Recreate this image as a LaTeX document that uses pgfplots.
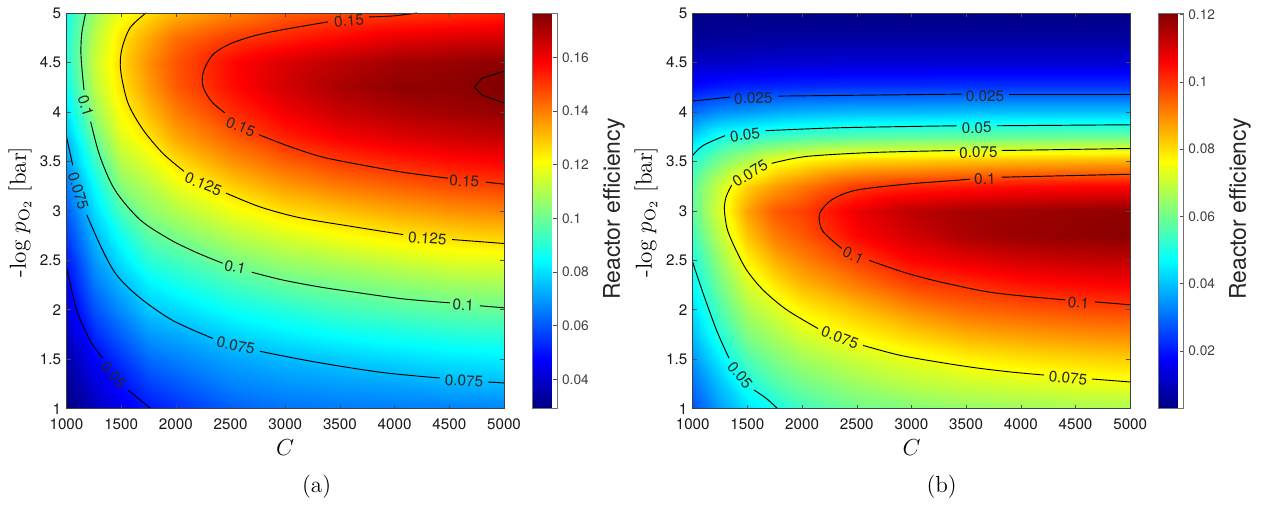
\documentclass[border=0pt]{standalone}
\usepackage{fontspec}
\usepackage{pgfplots}
\usepackage{pgfplotstable}
\pgfplotsset{compat=1.18}
\newfontfamily\hv{TeX Gyre Heros}
\newcommand{\tickf}{\hv\fontsize{11.4}{13}\selectfont}
\newcommand{\cbf}{\hv\fontsize{10.3}{12}\selectfont}
\newcommand{\labf}{\hv\fontsize{11.5}{13}\selectfont}
\pgfplotstableread[row sep=\\]{
c y z\\
1000 1 .0291\\1000 1.25 .032\\1000 1.5 .035\\1000 1.75 .039\\1000 2 .043\\1000 2.25 .0475\\1000 2.5 .051\\1000 2.75 .056\\1000 3 .061\\1000 3.25 .0655\\1000 3.5 .0705\\1000 3.75 .075\\1000 4 .081\\1000 4.25 .086\\1000 4.5 .089\\1000 4.75 .089\\1000 5 .087\\
1250 1 .037\\1250 1.25 .042\\1250 1.5 .047\\1250 1.75 .053\\1250 2 .059\\1250 2.25 .0645\\1250 2.5 .0695\\1250 2.75 .074\\1250 3 .079\\1250 3.25 .0845\\1250 3.5 .0915\\1250 3.75 .099\\1250 4 .106\\1250 4.25 .111\\1250 4.5 .113\\1250 4.75 .111\\1250 5 .107\\
1500 1 .0445\\1500 1.25 .0495\\1500 1.5 .055\\1500 1.75 .0615\\1500 2 .068\\1500 2.25 .074\\1500 2.5 .0805\\1500 2.75 .0865\\1500 3 .095\\1500 3.25 .104\\1500 3.5 .111\\1500 3.75 .117\\1500 4 .1215\\1500 4.25 .125\\1500 4.5 .1265\\1500 4.75 .125\\1500 5 .119\\
1750 1 .0505\\1750 1.25 .0565\\1750 1.5 .063\\1750 1.75 .0695\\1750 2 .0765\\1750 2.25 .0825\\1750 2.5 .0905\\1750 2.75 .0975\\1750 3 .105\\1750 3.25 .1105\\1750 3.5 .1175\\1750 3.75 .125\\1750 4 .131\\1750 4.25 .136\\1750 4.5 .1375\\1750 4.75 .134\\1750 5 .126\\
2000 1 .054\\2000 1.25 .060\\2000 1.5 .066\\2000 1.75 .072\\2000 2 .079\\2000 2.25 .0865\\2000 2.5 .094\\2000 2.75 .102\\2000 3 .110\\2000 3.25 .118\\2000 3.5 .126\\2000 3.75 .134\\2000 4 .140\\2000 4.25 .145\\2000 4.5 .146\\2000 4.75 .142\\2000 5 .132\\
2500 1 .061\\2500 1.25 .0665\\2500 1.5 .0715\\2500 1.75 .078\\2500 2 .0855\\2500 2.25 .0935\\2500 2.5 .102\\2500 2.75 .1105\\2500 3 .119\\2500 3.25 .128\\2500 3.5 .137\\2500 3.75 .1445\\2500 4 .1515\\2500 4.25 .1565\\2500 4.5 .157\\2500 4.75 .1495\\2500 5 .139\\
3000 1 .064\\3000 1.25 .069\\3000 1.5 .0745\\3000 1.75 .082\\3000 2 .0895\\3000 2.25 .0985\\3000 2.5 .1075\\3000 2.75 .116\\3000 3 .126\\3000 3.25 .1355\\3000 3.5 .1445\\3000 3.75 .1535\\3000 4 .160\\3000 4.25 .1645\\3000 4.5 .1635\\3000 4.75 .1535\\3000 5 .1445\\
3500 1 .065\\3500 1.25 .0705\\3500 1.5 .077\\3500 1.75 .085\\3500 2 .0935\\3500 2.25 .1015\\3500 2.5 .1105\\3500 2.75 .1205\\3500 3 .130\\3500 3.25 .1405\\3500 3.5 .150\\3500 3.75 .159\\3500 4 .166\\3500 4.25 .1705\\3500 4.5 .168\\3500 4.75 .1575\\3500 5 .1475\\
4000 1 .0655\\4000 1.25 .0715\\4000 1.5 .079\\4000 1.75 .087\\4000 2 .096\\4000 2.25 .1045\\4000 2.5 .114\\4000 2.75 .124\\4000 3 .134\\4000 3.25 .144\\4000 3.5 .1535\\4000 3.75 .1625\\4000 4 .1695\\4000 4.25 .174\\4000 4.5 .1715\\4000 4.75 .1615\\4000 5 .1495\\
4500 1 .066\\4500 1.25 .0735\\4500 1.5 .081\\4500 1.75 .089\\4500 2 .098\\4500 2.25 .107\\4500 2.5 .117\\4500 2.75 .1265\\4500 3 .137\\4500 3.25 .147\\4500 3.5 .1565\\4500 3.75 .165\\4500 4 .1715\\4500 4.25 .1745\\4500 4.5 .173\\4500 4.75 .163\\4500 5 .151\\
5000 1 .0665\\5000 1.25 .0745\\5000 1.5 .082\\5000 1.75 .0905\\5000 2 .0995\\5000 2.25 .1085\\5000 2.5 .118\\5000 2.75 .1285\\5000 3 .139\\5000 3.25 .149\\5000 3.5 .1585\\5000 3.75 .167\\5000 4 .1735\\5000 4.25 .1765\\5000 4.5 .1745\\5000 4.75 .1645\\5000 5 .153\\
}\tabA
\pgfplotstableread[row sep=\\]{
c y z\\
1000 1 .0265\\1000 1.25 .0305\\1000 1.5 .035\\1000 1.75 .0395\\1000 2 .0435\\1000 2.25 .047\\1000 2.5 .0505\\1000 2.75 .0545\\1000 3 .058\\1000 3.25 .058\\1000 3.5 .052\\1000 3.75 .042\\1000 4 .030\\1000 4.25 .0185\\1000 4.5 .0105\\1000 4.75 .0055\\1000 5 .0035\\
1250 1 .036\\1250 1.25 .040\\1250 1.5 .0455\\1250 1.75 .051\\1250 2 .056\\1250 2.25 .0605\\1250 2.5 .0645\\1250 2.75 .069\\1250 3 .0725\\1250 3.25 .0705\\1250 3.5 .061\\1250 3.75 .0495\\1250 4 .034\\1250 4.25 .0205\\1250 4.5 .011\\1250 4.75 .006\\1250 5 .0035\\
1500 1 .0435\\1500 1.25 .0495\\1500 1.5 .0555\\1500 1.75 .0615\\1500 2 .0665\\1500 2.25 .0715\\1500 2.5 .0775\\1500 2.75 .083\\1500 3 .087\\1500 3.25 .0815\\1500 3.5 .0675\\1500 3.75 .052\\1500 4 .0355\\1500 4.25 .0215\\1500 4.5 .0115\\1500 4.75 .006\\1500 5 .0035\\
1750 1 .049\\1750 1.25 .056\\1750 1.5 .0615\\1750 1.75 .0665\\1750 2 .072\\1750 2.25 .079\\1750 2.5 .0855\\1750 2.75 .0915\\1750 3 .0955\\1750 3.25 .0875\\1750 3.5 .0745\\1750 3.75 .054\\1750 4 .037\\1750 4.25 .022\\1750 4.5 .012\\1750 4.75 .0065\\1750 5 .0035\\
2000 1 .054\\2000 1.25 .060\\2000 1.5 .0655\\2000 1.75 .0715\\2000 2 .0775\\2000 2.25 .0845\\2000 2.5 .0905\\2000 2.75 .0955\\2000 3 .0985\\2000 3.25 .0915\\2000 3.5 .0775\\2000 3.75 .0555\\2000 4 .038\\2000 4.25 .0225\\2000 4.5 .012\\2000 4.75 .0065\\2000 5 .0035\\
2500 1 .0595\\2500 1.25 .065\\2500 1.5 .0705\\2500 1.75 .077\\2500 2 .0835\\2500 2.25 .0915\\2500 2.5 .0985\\2500 2.75 .1055\\2500 3 .108\\2500 3.25 .099\\2500 3.5 .0815\\2500 3.75 .057\\2500 4 .039\\2500 4.25 .023\\2500 4.5 .0125\\2500 4.75 .0065\\2500 5 .0035\\
3000 1 .062\\3000 1.25 .0685\\3000 1.5 .074\\3000 1.75 .0815\\3000 2 .0895\\3000 2.25 .098\\3000 2.5 .1055\\3000 2.75 .111\\3000 3 .1135\\3000 3.25 .1015\\3000 3.5 .0825\\3000 3.75 .058\\3000 4 .039\\3000 4.25 .023\\3000 4.5 .0125\\3000 4.75 .0065\\3000 5 .0035\\
3500 1 .064\\3500 1.25 .0705\\3500 1.5 .0775\\3500 1.75 .0855\\3500 2 .0935\\3500 2.25 .1005\\3500 2.5 .1085\\3500 2.75 .1155\\3500 3 .116\\3500 3.25 .103\\3500 3.5 .0835\\3500 3.75 .0585\\3500 4 .0395\\3500 4.25 .0235\\3500 4.5 .0125\\3500 4.75 .0065\\3500 5 .0035\\
4000 1 .065\\4000 1.25 .072\\4000 1.5 .0795\\4000 1.75 .0875\\4000 2 .0955\\4000 2.25 .1035\\4000 2.5 .111\\4000 2.75 .1175\\4000 3 .117\\4000 3.25 .1045\\4000 3.5 .0845\\4000 3.75 .059\\4000 4 .040\\4000 4.25 .0235\\4000 4.5 .0125\\4000 4.75 .0065\\4000 5 .0035\\
4500 1 .066\\4500 1.25 .0735\\4500 1.5 .081\\4500 1.75 .089\\4500 2 .097\\4500 2.25 .105\\4500 2.5 .1125\\4500 2.75 .1185\\4500 3 .118\\4500 3.25 .105\\4500 3.5 .085\\4500 3.75 .0595\\4500 4 .040\\4500 4.25 .0235\\4500 4.5 .0125\\4500 4.75 .0065\\4500 5 .0035\\
5000 1 .0665\\5000 1.25 .0745\\5000 1.5 .082\\5000 1.75 .090\\5000 2 .098\\5000 2.25 .106\\5000 2.5 .113\\5000 2.75 .1195\\5000 3 .1185\\5000 3.25 .1055\\5000 3.5 .0855\\5000 3.75 .0595\\5000 4 .040\\5000 4.25 .0235\\5000 4.5 .0125\\5000 4.75 .0065\\5000 5 .0035\\
}\tabB
\pgfplotsset{
  panel/.style={
    scale only axis, width=328.125pt, height=296.775pt,
    xmin=1000,xmax=5000,ymin=1,ymax=5,
    xtick={1000,1500,...,5000},
    xticklabels={1000,1500,2000,2500,3000,3500,4000,4500,5000},
    ytick={1,1.5,...,5},
    yticklabels={1,1.5,2,2.5,3,3.5,4,4.5,5},
    tick align=inside, major tick length=3pt,
    tick style={black!70,line width=.4pt},
    axis line style={black!75,line width=.6pt},
    ticklabel style={font=\tickf,text=black!90},
    xticklabel style={yshift=-4pt},
    yticklabel style={xshift=-.5pt},
    axis on top,
    colormap/jet,
    colorbar,
  },
  field/.style={surf,shader=interp,forget plot,mesh/rows=17,mesh/cols=11,mesh/ordering=y varies,point meta=\thisrow{z}},
  cbar/.style={
    at={(parent axis.south east)},anchor=south west,xshift=12.75pt,
    scale only axis,width=18.75pt,height=296.775pt,
    tick align=inside,major tick length=3pt,
    ytick pos=right,yticklabel pos=right,
    tick style={black!70,line width=.4pt},
    axis line style={black!55,line width=.6pt},
    xtick=\empty,
    yticklabel style={font=\cbf,text=black!75,xshift=0pt},
  },
  cont/.style={black,line width=.7pt,no markers,smooth,forget plot},
}
\newcommand{\lab}[4]{\node[rotate=#3,font=\labf,text=black!85,inner sep=0pt] at (axis cs:#1,#2) {#4};}
\begin{document}
\begin{tikzpicture}
\useasboundingbox (0,0) rectangle (948.75pt,378.75pt);
\begin{axis}[panel,at={(49.875pt,72.225pt)},anchor=south west,
  point meta min=.0291,point meta max=.1765,
  colorbar style={cbar,ytick={.04,.06,.08,.1,.12,.14,.16},yticklabels={0.04,0.06,0.08,0.1,0.12,0.14,0.16}}]
\addplot[field] table[x=c,y=y] {\tabA};
% 0.05
\addplot[cont] coordinates {(1000,2.43)(1093,2.0)(1215,1.69)(1331,1.51)};
\addplot[cont] coordinates {(1560,1.19)(1672,1.09)(1773,1.0)};
% 0.075
\addplot[cont] coordinates {(1000,3.75)(1057,3.46)};
\addplot[cont] coordinates {(1185,2.96)(1322,2.62)(1459,2.35)(1672,2.12)(1974,1.89)(2339,1.71)};
\addplot[cont] coordinates {(2769,1.58)(3135,1.50)(3500,1.43)(3930,1.36)(4414,1.31)};
\addplot[cont] coordinates {(4853,1.27)(5000,1.26)};
% 0.1
\addplot[cont] coordinates {(1175,5)(1139,4.79)(1133,4.56)(1160,4.22)};
\addplot[cont] coordinates {(1221,3.90)(1306,3.55)(1443,3.21)(1672,2.91)(1946,2.71)(2166,2.59)(2282,2.535)(2428,2.47)};
\addplot[cont] coordinates {(2693,2.38)(2980,2.30)(3318,2.23)(3620,2.18)(4077,2.11)(4506,2.07)};
\addplot[cont] coordinates {(4780,2.04)(5000,2.02)};
% 0.125
\addplot[cont] coordinates {(1727,5)(1581,4.85)(1505,4.63)(1495,4.42)(1562,4.09)(1700,3.82)(1882,3.58)(2074,3.40)};
\addplot[cont] coordinates {(2458,3.18)(2769,3.04)(3135,2.93)(3620,2.84)(4077,2.76)};
\addplot[cont] coordinates {(4525,2.71)(5000,2.67)};
% 0.15
\addplot[cont] coordinates {(3390,4.91)(2830,4.80)(2522,4.70)(2340,4.58)(2250,4.40)(2250,4.25)(2330,4.10)(2449,3.99)};
\addplot[cont] coordinates {(2760,3.77)(3016,3.66)(3318,3.55)(3620,3.48)(4077,3.39)(4488,3.33)};
\addplot[cont] coordinates {(4835,3.29)(5000,3.27)};
\addplot[cont] coordinates {(3766,4.96)(3985,4.97)(4205,5)};
% 0.175
\addplot[black,line width=.7pt,no markers,forget plot] coordinates {(5000,4.41)(4796,4.34)(4729,4.25)(4800,4.17)(5000,4.09)};
\lab{1428}{1.34}{-50}{0.05}
\lab{1108}{3.2}{-73}{0.075}
\lab{2547}{1.64}{-12}{0.075}
\lab{4634}{1.28}{-3}{0.075}
\lab{1175}{4.06}{-72}{0.1}
\lab{2541}{2.43}{-12}{0.1}
\lab{4628}{2.05}{-3}{0.1}
\lab{2251}{3.27}{-22}{0.125}
\lab{4300}{2.72}{-4}{0.125}
\lab{2593}{3.85}{-22}{0.15}
\lab{4637}{3.30}{-3}{0.15}
\lab{3583}{4.92}{5}{0.15}
\end{axis}
\begin{axis}[panel,at={(519.525pt,72.225pt)},anchor=south west,
  point meta min=.0028,point meta max=.1205,
  colorbar style={cbar,ytick={.02,.04,.06,.08,.1,.12},yticklabels={0.02,0.04,0.06,0.08,0.1,0.12}}]
\addplot[field] table[x=c,y=y] {\tabB};
% 0.025
\addplot[cont] coordinates {(1000,4.11)(1341,4.15)};
\addplot[cont] coordinates {(1780,4.16)(3460,4.18)};
\addplot[cont] coordinates {(3892,4.18)(5000,4.18)};
% 0.05 upper
\addplot[cont] coordinates {(1000,3.56)(1094,3.66)(1295,3.76)};
\addplot[cont] coordinates {(1667,3.81)(2347,3.84)(3414,3.86)};
\addplot[cont] coordinates {(3780,3.86)(5000,3.87)};
% 0.05 lower
\addplot[cont] coordinates {(1000,2.48)(1094,2.17)(1219,1.79)(1332,1.51)};
\addplot[cont] coordinates {(1560,1.19)(1677,1.10)(1777,1.0)};
% 0.075
\addplot[cont] coordinates {(1722,3.48)(2042,3.55)(2650,3.59)(3398,3.61)};
\addplot[cont] coordinates {(3827,3.61)(5000,3.63)};
\addplot[cont] coordinates {(1356,3.26)(1305,3.14)(1290,3.01)(1317,2.81)(1393,2.61)(1494,2.40)(1643,2.20)(1859,2.00)(2146,1.81)};
\addplot[cont] coordinates {(2557,1.64)(2895,1.54)(3307,1.46)(3610,1.41)(3917,1.37)(4212,1.34)};
\addplot[cont] coordinates {(4651,1.30)(5000,1.27)};
% 0.1
\addplot[cont] coordinates {(3535,3.32)(3307,3.30)(2957,3.27)(2499,3.21)(2283,3.12)(2179,3.01)(2155,2.93)(2192,2.79)(2362,2.62)};
\addplot[cont] coordinates {(2612,2.50)(2957,2.37)(3307,2.27)(3764,2.17)(4405,2.10)};
\addplot[cont] coordinates {(4678,2.08)(5000,2.05)};
\addplot[cont] coordinates {(3825,3.34)(5000,3.37)};
\lab{1554}{4.14}{2}{0.025}
\lab{3672}{4.16}{0}{0.025}
\lab{1478}{3.77}{8}{0.05}
\lab{3597}{3.84}{1}{0.05}
\lab{1524}{3.38}{32}{0.075}
\lab{3612}{3.59}{1}{0.075}
\lab{2346}{1.72}{-20}{0.075}
\lab{4431}{1.31}{-6}{0.075}
\lab{1432}{1.34}{-50}{0.05}
\lab{2468}{2.55}{-25}{0.1}
\lab{4526}{2.07}{-5}{0.1}
\lab{3672}{3.32}{2}{0.1}
\end{axis}
% labels placed by pixel position (0.75pt per pixel, origin bottom left)
\node[rotate=90,font=\large,scale=1.45] at (15pt,219.75pt) {-log $p_{\mathrm{O}_2}$ [bar]};
\node[rotate=90,font=\large,scale=1.45] at (484.5pt,219.75pt) {-log $p_{\mathrm{O}_2}$ [bar]};
\node[font=\large,scale=1.45] at (213.75pt,42.75pt) {$C$};
\node[font=\large,scale=1.45] at (683.75pt,42.75pt) {$C$};
\node[font=\large,scale=1.45] at (237.5pt,13.5pt) {(a)};
\node[font=\large,scale=1.45] at (706.25pt,13.5pt) {(b)};
\node[rotate=90,font=\hv\fontsize{17.2}{20}\selectfont,text=black!85] at (460.5pt,222pt) {Reactor efficiency};
\node[rotate=90,font=\hv\fontsize{17.2}{20}\selectfont,text=black!85] at (930pt,222pt) {Reactor efficiency};
\end{tikzpicture}
\end{document}
